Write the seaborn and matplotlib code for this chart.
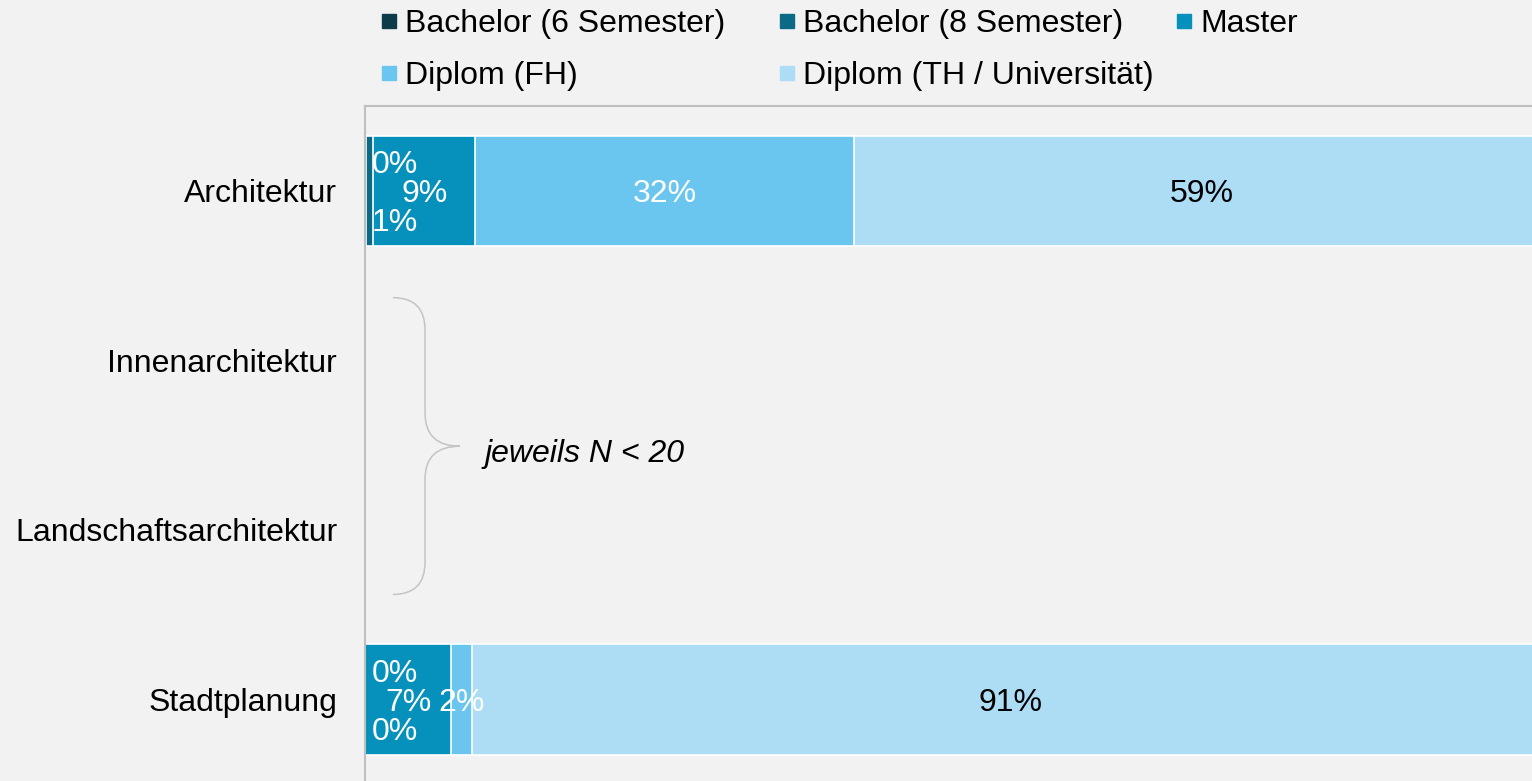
import matplotlib
matplotlib.use("Agg")
import matplotlib.pyplot as plt
from matplotlib.lines import Line2D
from matplotlib.path import Path
from matplotlib.patches import PathPatch
import seaborn as sns
import pandas as pd

# Data (shares in percent, only fields with N >= 20 have bars)
categories = ["Architektur", "Innenarchitektur", "Landschaftsarchitektur", "Stadtplanung"]
degrees = ["Bachelor (6 Semester)", "Bachelor (8 Semester)", "Master",
           "Diplom (FH)", "Diplom (TH / Universität)"]
colors = ["#0e3b4a", "#0b6a86", "#0690bc", "#6bc6ef", "#addcf5"]
label_colors = ["white", "white", "white", "white", "black"]

arch_values = [0.1, 0.6, 8.6, 32.0, 58.7]
stadt_values = [0.0, 0.0, 7.3, 1.7, 91.0]

df = pd.DataFrame([arch_values, stadt_values], columns=degrees)
df["field"] = ["Architektur", "Stadtplanung"]
cum = df[degrees].cumsum(axis=1)
cum["field"] = df["field"]

FS = 23

sns.set_theme(style="white")
plt.rcParams["font.family"] = ["Liberation Sans", "DejaVu Sans"]
plt.rcParams["font.size"] = FS
plt.rcParams["text.color"] = "black"

fig = plt.figure(figsize=(15.32, 7.81), dpi=100)
fig.patch.set_facecolor("#f2f2f2")
# the plot area runs a bit past the right edge of the picture (100% at x=1549)
ax = fig.add_axes([365 / 1532, 0, 1184 / 1532, 675 / 781])
ax.set_facecolor("#f2f2f2")

# stacked bars: draw cumulative totals back to front
for i in reversed(range(len(degrees))):
    sns.barplot(data=cum, x=degrees[i], y="field", order=categories, orient="h",
                color=colors[i], saturation=1, width=0.65, errorbar=None,
                edgecolor="white", linewidth=1.2, ax=ax)

ax.set_xlim(0, 100)
ax.set_ylim(3.48, -0.5)
ax.set_xlabel("")
ax.set_ylabel("")
ax.set_xticks([])
ax.tick_params(axis="y", length=0, pad=20, labelsize=FS, colors="black")
for s in ["right", "bottom"]:
    ax.spines[s].set_visible(False)
for s in ["left", "top"]:
    ax.spines[s].set_color("#bfbfbf")
    ax.spines[s].set_linewidth(1.5)

# data labels
for _, row in df.iterrows():
    ypos = categories.index(row["field"])
    start = 0
    for i, d in enumerate(degrees):
        v = row[d]
        txt = f"{v:.0f}%"
        if i < 2:
            dy = -0.17 if i == 0 else 0.17
            ax.text(0.6, ypos + dy, txt, ha="left", va="center_baseline",
                    color=label_colors[i], fontsize=FS)
        else:
            ax.text(start + v / 2, ypos, txt, ha="center", va="center_baseline",
                    color=label_colors[i], fontsize=FS)
        start += v

# brace for the fields without enough answers
verts = [(2.36, 0.63), (5.07, 0.63), (5.07, 0.82), (5.07, 1.31),
         (5.07, 1.506), (8.02, 1.506), (5.07, 1.506), (5.07, 1.70),
         (5.07, 2.19), (5.07, 2.38), (2.36, 2.38)]
codes = [Path.MOVETO, Path.CURVE3, Path.CURVE3, Path.LINETO,
         Path.CURVE3, Path.CURVE3, Path.CURVE3, Path.CURVE3,
         Path.LINETO, Path.CURVE3, Path.CURVE3]
ax.add_patch(PathPatch(Path(verts, codes), fill=False, edgecolor="#c4c4c4", lw=1.1))
ax.text(10.1, 1.53, "jeweils N < 20", style="italic", ha="left",
        va="center_baseline", fontsize=FS)

# legend, three fixed columns filled row-wise
columns = [[0, 3], [1, 4], [2]]
col_x = [381, 779, 1176]
for idx, x in zip(columns, col_x):
    handles = [Line2D([], [], marker="s", linestyle="", markersize=10,
                      color=colors[j]) for j in idx]
    fig.legend(handles, [degrees[j] for j in idx], loc="upper left",
               bbox_to_anchor=(x / 1532, 1 - 9 / 781), frameon=False,
               borderpad=0, borderaxespad=0, handlelength=0.5,
               handletextpad=0.25, labelspacing=0.7, fontsize=FS,
               labelcolor="black")

fig.savefig("out.png", dpi=100, facecolor=fig.get_facecolor())
